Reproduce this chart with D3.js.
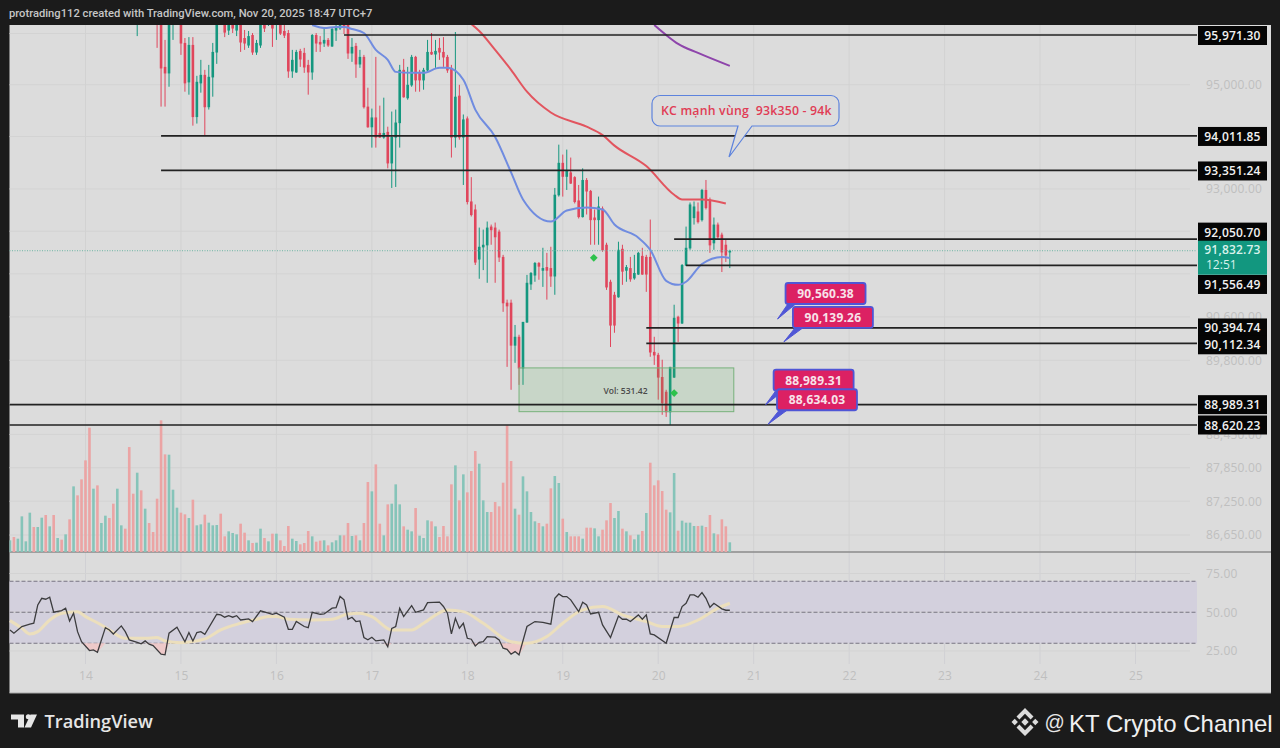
<!DOCTYPE html>
<html>
<head>
<meta charset="utf-8">
<script src="https://cdn.jsdelivr.net/npm/d3@7"></script>
<style>
  html, body { margin: 0; padding: 0; background: #1b1b1b; }
  svg { display: block; }
  text { font-family: "Open Sans", sans-serif; }
</style>
</head>
<body>
<div id="chart"></div>
<script>
// hourly candles, the first one visible in the pane is hour 32 of the session
var firstCandleHour = 32;
var opens = [
  96225,96360,96555,96460,96360,96555,96460,95348,95232,96265,
  96555,96460,95816,95058,95777,94387,95039,95193,94577,95155,
  95640,96265,96360,96070,96265,96070,96265,95912,95777,95971,
  95640,95777,96187,96225,96265,96187,96225,96050,96010,95271,
  95251,95660,95621,95387,95251,95971,95836,95816,95875,95758,
  96070,96110,96187,96168,95621,95758,95407,95543,94577,94190,
  94368,94070,93992,94090,93497,93992,94270,95290,94750,95000,
  95543,95251,95097,95290,95640,95602,95719,95640,95543,95329,
  93992,94789,93992,94349,92762,92610,91679,91907,91945,92287,
  92268,92192,91717,90863,90863,90080,90232,89660,90507,91214,
  91380,91603,91470,91527,91508,91362,92890,93497,93242,93314,
  93224,92781,92477,93170,92962,92458,92420,92629,91945,91252,
  91010,90974,91869,91470,91508,91326,91398,91736,91717,91717,
  89954,89900,89494,89224,88862,89494,90602,90488,91565,91888,
  92458,92572,92420,92980,92800,91983,92325,92135,91945,91812];
var highs = [
  96420,96555,96650,96650,96555,96650,96555,95875,96460,96650,
  96650,96555,95912,95930,95930,95174,95485,95290,95387,95816,
  96460,96555,96460,96360,96360,96360,96360,96070,96050,96010,
  95875,96360,96360,96420,96360,96420,96360,96225,96070,95680,
  95680,95700,95719,95485,95990,96010,95950,96110,95912,96110,
  96225,96305,96265,96265,95912,95816,95680,95582,94943,94539,
  95543,94596,94750,94190,94482,94520,95387,95504,95348,95582,
  95563,95290,95329,95875,96010,95875,95912,95930,95582,95387,
  96030,95000,94425,94387,93224,92705,92268,92230,92382,92325,
  92363,92230,91755,90920,90920,90450,90270,90507,91380,91434,
  91622,91622,91888,91793,91907,93018,93845,93655,93750,93598,
  93242,93075,93392,93206,92980,92610,92854,92667,91983,91290,
  91064,92002,91945,91565,91717,91755,91812,91888,91755,92420,
  90232,89936,89810,89260,89679,90825,90621,91584,92287,92743,
  92762,92743,93000,93170,92836,92458,92363,92173,92040,91850];
var lows = [
  95950,96265,96360,96265,96225,95719,94577,94577,94962,95875,
  96265,95582,94866,94808,94210,94250,94847,94030,94520,94769,
  95407,96187,95930,95971,96010,95950,95640,95680,95719,95582,
  95582,95719,96030,96148,95738,95875,95971,95912,95135,95135,
  95232,95348,95232,94808,95097,95640,95640,95738,95738,95738,
  95855,96070,95990,95504,95446,95135,95329,94539,94170,93788,
  93788,93975,93958,93392,93018,93037,93788,94750,94710,94962,
  94866,94866,94905,95251,95582,95329,95485,95348,95232,93598,
  93788,93940,93075,92705,92477,91565,91308,91470,91233,91945,
  91233,91622,90693,89679,89260,89753,89350,89350,90488,91100,
  91252,91290,91157,90920,91157,91010,92854,92854,92980,93094,
  92724,92439,92458,92515,91945,91945,91945,91812,91100,90044,
  90306,90956,91195,91252,91252,91290,91380,91380,91064,89864,
  89715,89080,88805,88767,88620,89476,90137,90469,91546,91850,
  92325,92344,92382,92610,91793,91850,92040,91434,91622,91508];
var closes = [
  96305,96460,96460,96360,96460,96265,95329,95232,96360,96555,
  96360,95816,95039,95777,94387,95058,95193,94577,95155,95640,
  96360,96460,96030,96265,96110,96225,95836,95816,95950,95640,
  95816,96265,96110,96305,96110,96305,96010,95971,95271,95485,
  95640,95504,95348,95251,95971,95816,95797,95875,95777,96090,
  96130,96225,96130,95621,95738,95407,95543,94577,94190,94368,
  93992,93992,94070,93497,93992,94270,95290,94769,95000,95543,
  95097,95097,95290,95640,95602,95660,95640,95543,95290,93992,
  94769,93992,94330,92762,92515,91622,91907,91945,92268,92230,
  92097,91717,90863,90806,90080,90232,89660,90507,91233,91416,
  91603,91546,91508,91470,91362,92890,93497,93242,93350,93113,
  92762,92477,93170,92962,92420,92420,92667,91850,91157,90450,
  90450,91850,91452,91527,91308,91416,91793,91398,91398,89954,
  89900,89494,89026,88862,89679,90583,90488,91565,91888,92705,
  92667,92382,92980,92648,91945,92325,92097,91812,91755,91832.73];

// volume for every hour, from hour 0
var volumes = [
  35,45,40,107,32,118,75,75,103,111,77,111,42,37,53,98,197,170,218,275,
  373,190,200,87,109,102,145,190,80,70,315,175,238,185,130,87,60,160,395,293,
  292,187,133,118,113,102,157,80,83,112,88,80,81,115,47,62,57,53,85,58,
  35,27,28,70,42,32,55,55,35,18,78,40,33,23,27,63,47,31,34,35,
  20,29,35,50,50,87,48,50,35,87,210,182,263,85,
  50,143,145,203,143,77,67,62,132,49,42,95,92,77,45,78,47,203,260,155,
  233,179,243,303,265,155,120,120,150,137,208,380,273,130,112,227,182,120,92,87,
  77,85,191,228,207,100,60,47,47,47,40,73,73,71,47,67,95,147,102,123,
  70,62,50,38,52,63,117,268,200,215,183,127,119,237,64,94,88,88,78,78,
  79,75,111,56,53,98,77,29];
var volumeDirs = ("grgggg rggr grgrgrgrrr rgrggrrggr rrgrgrrrrr ggg rrgrggr " +
  "gggrrgggrr grggrgrgrr rggrrrgrrg rgggrrgrgr rgrr " +
  "grgggrggrg ggrgrrrrgr grrrgggrrr rrrgrggggr grrggrgrrr " +
  "grrggrrrgg rgrggrgrrr rrggrggggr grrgrrrg").replace(/ /g, "").split("");

var blueHours = [76,79,82,84,86,89,92,95,97,101,104,108,110,114,117,122,126,129,136,140,145,149,152,158,161,165,168,170,174,179,181];
var blueValues = [96168,96110,96130,96130,96090,96010,95680,95485,95251,95232,95232,95329,95329,95097,94520,93992,93314,92800,92382,92590,92648,92610,92325,92078,91850,91270,91195,91252,91584,91717,91698];
var redHours = [116,118,122,126,130,136,145,149,152,160,167,169,174,180];
var redValues = [96187,96050,95680,95290,94866,94463,94190,94030,93826,93435,92890,92800,92800,92724];
var purpleHours = [162,165,168,173,181];
var purpleValues = [96168,95971,95797,95621,95368];

var rsiHours = [0,1,3,5,6,7,8,9,10,11,13,14,15,16,17,18,20,21,22,24,25,26,28,29,30,32,33,34,35,36,38,39,40,42,44,45,46,47,48,49,52,53,54,55,56,57,58,60,61,63,65,66,67,69,70,71,72,74,75,76,78,79,81,82,83,84,85,86,87,88,89,90,91,92,94,95,96,97,98,99,101,102,104,105,108,109,110,111,112,113,114,115,116,117,118,119,120,122,123,124,125,126,127,128,130,132,134,136,137,138,139,140,141,143,144,145,146,148,149,151,153,154,155,156,158,159,160,161,162,165,167,168,169,170,171,172,173,174,175,176,177,179,180,181];
var rsiValues = [38.6,36.5,40.8,42.3,42.9,54.7,59,58.4,59.7,50,51.1,52.6,44.4,49.4,37.5,31,25.3,25.7,24.2,40.1,38.6,36,41.2,37.5,32.2,30.6,29.6,31.5,29.4,28.5,22.9,22.5,36.5,40.3,31,36.9,31.5,36.9,37.5,35.8,48.7,48.3,46.8,47.8,46.8,47.8,45,45.7,44,50.9,49.4,48.7,49.4,46.8,39,39,44,40.8,40.1,50,48.7,48.9,52.6,53,60.2,58,45.5,46.8,44,44.4,33.7,32.2,33.9,31.5,32.2,27.8,39.6,40.8,52.6,47.2,54.3,50,51.5,56.2,56.5,53.7,49.4,36,46.1,39.7,42.9,33.2,32.6,28.3,30.6,31.1,34.3,33.9,32.2,26.8,26.1,22.9,24.6,22.5,40.8,44,43.5,42.3,59,61.8,60.1,60.1,58,50.4,56.5,54.7,48.9,50,41.8,33.7,47.6,45.5,45.5,44,48.3,45.5,48.3,36,35.4,30,46.6,46.6,53.7,55.8,61.2,61.2,59.7,62.7,59,53.2,55.8,52.2,51.3,51.3];
var rsiMaHours = [0,3,5,7,10,13,17,19,23,25,29,34,37,39,43,49,53,58,62,65,67,70,76,81,85,88,91,96,101,104,110,114,119,126,130,135,139,144,149,154,160,164,168,173,178,181];
var rsiMaValues = [44.6,39.7,36,37.5,45,49.4,50.4,47.2,41.8,38.6,33.2,33.2,33.7,31.5,30.4,32.8,38.6,42.9,45.5,47.2,47.2,45.5,45,45.5,48.9,49.4,47.2,38.6,38.6,42.9,51.5,50.4,42.9,31,30,34.3,42.9,51.5,53.7,48.3,44,40.8,40.8,45,52.6,55.8];

var priceGridTicks = [96000,95000,94000,93000,92200,91400,90600,89800,89000,88450,87850,87250,86650];
var priceLabelTicks = [95000,93000,90600,89800,88450,87850,87250,86650];
var rsiTicks = [75,50,25];
var rsiBands = [70,50,30];
var levelPrices = [95971.30,94011.85,93351.24,92050.70,91556.49,90394.74,90112.34,88989.31,88620.23];
var levelStartHours = [84,38,38,167,170,160,160,0,0];
var lastPrice = 91832.73;
var countdown = "12:51";
var tagPrices = [90560.38,90139.26,88989.31,88634.03];
var tagHours = [193,194.6,190,190.6];
var rangeHours = [128,182];
var rangePrices = [89660,88862];
var rangeLabel = "Vol: 531.42";
var markerHours = [146.8,167];
var markerPrices = [91700,89200];

// layout
var width = 1280, height = 748;
var paneLeft = 9.5, paneRight = 1271, paneTop = 25, paneBottom = 693;
var plotRight = 1197, volumeBase = 552, timeAxisTop = 664;
var levelLabelShift = [0.5,0.5,0.5,-7,19,0,1.5,0,0];
var tagBoxOffsets = [[8,-36],[9,-35],[8,-35],[9,-35]];
var tagBoxWidth = 80, tagBoxHeight = 21;
var red = "#e0465c", green = "#15977f";

var hourAt = function(h) { return new Date(Date.UTC(2025, 10, 13, 5) + h * 3600000); };

var x = d3.scaleUtc()
  .domain([new Date(Date.UTC(2025, 10, 14)), new Date(Date.UTC(2025, 10, 25))])
  .range([85.5, 1135.5]);
var y = d3.scaleLog()
  .domain([88620.23, 95971.30])
  .range([425, 35]);
var yVolume = d3.scaleLinear().domain([0, 400]).range([volumeBase, volumeBase - 133.3]);
var yRsi = d3.scaleLinear().domain([25, 75]).range([651, 573.5]);

var svg = d3.select("#chart").append("svg")
  .attr("width", width)
  .attr("height", height);

svg.append("text")
  .attr("x", 9)
  .attr("y", 17)
  .attr("fill", "#c6c6c6")
  .style("font-family", "Roboto, sans-serif")
  .attr("font-size", 11.2)
  .attr("font-weight", 500)
  .text("protrading112 created with TradingView.com, Nov 20, 2025 18:47 UTC+7");

svg.append("rect")
  .attr("x", paneLeft)
  .attr("y", paneTop)
  .attr("width", paneRight - paneLeft)
  .attr("height", paneBottom - paneTop)
  .attr("fill", "#dcdcdc");

svg.append("clipPath").attr("id", "plot").append("rect")
  .attr("x", paneLeft)
  .attr("y", paneTop)
  .attr("width", plotRight - paneLeft)
  .attr("height", volumeBase - paneTop);

// grid
svg.append("g").selectAll("line")
  .data(priceGridTicks)
  .enter().append("line")
  .attr("x1", paneLeft)
  .attr("x2", 1190)
  .attr("y1", function(d) { return y(d); })
  .attr("y2", function(d) { return y(d); })
  .attr("stroke", "#d3d3d3");
var days = x.ticks(d3.utcDay.every(1));
var dayGrid = svg.append("g");
dayGrid.selectAll(".upper")
  .data(days)
  .enter().append("line")
  .attr("x1", function(d) { return x(d); })
  .attr("x2", function(d) { return x(d); })
  .attr("y1", paneTop)
  .attr("y2", volumeBase)
  .attr("stroke", "#d2d2d2");

// RSI band goes under the lower part of the day grid
var band = svg.append("g");
band.append("rect")
  .attr("x", paneLeft)
  .attr("y", yRsi(rsiBands[0]))
  .attr("width", plotRight - paneLeft)
  .attr("height", yRsi(rsiBands[2]) - yRsi(rsiBands[0]))
  .attr("fill", "#d3d0dd");
band.selectAll(".faint")
  .data(rsiTicks)
  .enter().append("line")
  .attr("x1", paneLeft)
  .attr("x2", 1190)
  .attr("y1", function(d) { return yRsi(d); })
  .attr("y2", function(d) { return yRsi(d); })
  .attr("stroke", "#d3d3d3");
band.selectAll(".limit")
  .data(rsiBands)
  .enter().append("line")
  .attr("x1", paneLeft)
  .attr("x2", plotRight)
  .attr("y1", function(d) { return yRsi(d); })
  .attr("y2", function(d) { return yRsi(d); })
  .attr("stroke", "#787582")
  .attr("stroke-dasharray", "4 2");
dayGrid.selectAll(".lower")
  .data(days)
  .enter().append("line")
  .attr("x1", function(d) { return x(d); })
  .attr("x2", function(d) { return x(d); })
  .attr("y1", volumeBase)
  .attr("y2", timeAxisTop)
  .attr("stroke", "#d0d0d4");

svg.append("line")
  .attr("x1", paneLeft)
  .attr("x2", paneRight)
  .attr("y1", volumeBase)
  .attr("y2", volumeBase)
  .attr("stroke", "#8b8b8b")
  .attr("stroke-width", 1.5);

// axes
var priceAxis = d3.axisRight(y)
  .tickValues(priceLabelTicks)
  .tickSize(0)
  .tickPadding(0)
  .tickFormat(d3.format(",.2f"));
svg.append("g").attr("class", "axis")
  .attr("transform", "translate(1206,0)")
  .call(priceAxis);
var rsiAxis = d3.axisRight(yRsi)
  .tickValues(rsiTicks)
  .tickSize(0)
  .tickPadding(0)
  .tickFormat(d3.format(".2f"));
svg.append("g").attr("class", "axis")
  .attr("transform", "translate(1206,0)")
  .call(rsiAxis);
var timeAxis = d3.axisBottom(x)
  .ticks(d3.utcDay.every(1))
  .tickSize(0)
  .tickPadding(0)
  .tickFormat(d3.utcFormat("%-d"));
svg.append("g").attr("class", "axis")
  .attr("transform", "translate(0,671)")
  .call(timeAxis);
svg.selectAll(".axis .domain").remove();
svg.selectAll(".axis text")
  .attr("fill", "#bfbfbf")
  .attr("font-size", 12)
  .attr("letter-spacing", 0.2);

// volume
svg.append("g")
  .attr("clip-path", "url(#plot)")
  .selectAll("rect")
  .data(volumes)
  .enter().append("rect")
  .attr("x", function(d, i) { return x(hourAt(i)) - 1.3; })
  .attr("y", function(d) { return yVolume(d); })
  .attr("width", 2.6)
  .attr("height", function(d) { return volumeBase - yVolume(d); })
  .attr("fill", function(d, i) { return volumeDirs[i] === "g" ? "#86c4b9" : "#eba4a4"; });

// price pane content
var plot = svg.append("g").attr("clip-path", "url(#plot)");

var candles = plot.append("g").selectAll("g")
  .data(opens)
  .enter().append("g")
  .attr("transform", function(d, i) { return "translate(" + x(hourAt(firstCandleHour + i)) + ",0)"; })
  .attr("fill", function(d, i) { return closes[i] >= opens[i] ? green : red; })
  .attr("stroke", function(d, i) { return closes[i] >= opens[i] ? green : red; });
candles.append("line")
  .attr("y1", function(d, i) { return y(highs[i]); })
  .attr("y2", function(d, i) { return y(lows[i]); });
candles.append("rect")
  .attr("x", -1.3)
  .attr("width", 2.6)
  .attr("y", function(d, i) { return y(Math.max(opens[i], closes[i])); })
  .attr("height", function(d, i) { return Math.abs(y(opens[i]) - y(closes[i])) + 0.6; })
  .attr("stroke", "none");

svg.append("line")
  .attr("x1", paneLeft)
  .attr("x2", plotRight)
  .attr("y1", y(lastPrice))
  .attr("y2", y(lastPrice))
  .attr("stroke", "#6fb6a6")
  .attr("stroke-dasharray", "1 1.5");

// moving averages
var maLine = d3.line()
  .x(function(d) { return x(hourAt(d[0])); })
  .y(function(d) { return y(d[1]); })
  .curve(d3.curveMonotoneX);
plot.append("path").datum(d3.zip(blueHours, blueValues))
  .attr("d", maLine).attr("fill", "none").attr("stroke", "#708ce0").attr("stroke-width", 2);
plot.append("path").datum(d3.zip(redHours, redValues))
  .attr("d", maLine).attr("fill", "none").attr("stroke", "#e2555f").attr("stroke-width", 2);
plot.append("path").datum(d3.zip(purpleHours, purpleValues))
  .attr("d", maLine).attr("fill", "none").attr("stroke", "#8e45ab").attr("stroke-width", 2);

// volume range box
var rangeBox = svg.append("g");
rangeBox.append("rect")
  .attr("x", x(hourAt(rangeHours[0])))
  .attr("y", y(rangePrices[0]))
  .attr("width", x(hourAt(rangeHours[1])) - x(hourAt(rangeHours[0])))
  .attr("height", y(rangePrices[1]) - y(rangePrices[0]))
  .attr("fill", "#4caf50")
  .attr("fill-opacity", 0.14)
  .attr("stroke", "#78b27c");
rangeBox.append("text")
  .attr("x", 625.5)
  .attr("y", 393.5)
  .attr("text-anchor", "middle")
  .attr("fill", "#4a4a4a")
  .attr("font-size", 8.5)
  .attr("font-weight", 600)
  .text(rangeLabel);

svg.append("g").selectAll("path")
  .data(markerHours)
  .enter().append("path")
  .attr("transform", function(d, i) { return "translate(" + x(hourAt(d)) + "," + y(markerPrices[i]) + ") rotate(45)"; })
  .attr("d", d3.symbol().type(d3.symbolSquare).size(30))
  .attr("fill", "#2ec24c");

// horizontal levels and their axis labels
var levels = svg.append("g");
levels.selectAll("line")
  .data(levelPrices)
  .enter().append("line")
  .attr("x1", function(d, i) { return levelStartHours[i] === 0 ? paneLeft : x(hourAt(levelStartHours[i])); })
  .attr("x2", plotRight)
  .attr("y1", function(d) { return y(d); })
  .attr("y2", function(d) { return y(d); })
  .attr("stroke", "#222222")
  .attr("stroke-width", 1.7);
var levelTags = levels.selectAll("g")
  .data(levelPrices)
  .enter().append("g")
  .attr("transform", function(d, i) { return "translate(1198," + (y(d) + levelLabelShift[i]) + ")"; });
levelTags.append("rect")
  .attr("y", -9.5)
  .attr("width", 69)
  .attr("height", 19)
  .attr("fill", "#050505");
levelTags.append("text")
  .attr("x", 34.5)
  .attr("y", 4.5)
  .attr("text-anchor", "middle")
  .attr("fill", "#f2f2f2")
  .attr("font-size", 12)
  .attr("font-weight", 600)
  .attr("letter-spacing", 0.2)
  .text(d3.format(",.2f"));

// last price tag
var lastTag = svg.append("g").attr("transform", "translate(1198," + (y(lastPrice) - 10) + ")");
lastTag.append("rect")
  .attr("width", 69)
  .attr("height", 34)
  .attr("fill", "#12977f");
lastTag.append("text")
  .attr("x", 34.5)
  .attr("y", 13.5)
  .attr("text-anchor", "middle")
  .attr("fill", "#d9f2ec")
  .attr("font-size", 12)
  .attr("font-weight", 600)
  .attr("letter-spacing", 0.2)
  .text(d3.format(",.2f")(lastPrice));
lastTag.append("text")
  .attr("x", 8)
  .attr("y", 28.5)
  .attr("fill", "#d9f2ec")
  .attr("font-size", 12)
  .text(countdown);

// pink price tags with the pointer down to the price
var tags = svg.append("g").selectAll("g")
  .data(tagPrices)
  .enter().append("g")
  .attr("transform", function(d, i) { return "translate(" + x(hourAt(tagHours[i])) + "," + y(d) + ")"; });
tags.append("path")
  .attr("d", function(d, i) {
    var o = tagBoxOffsets[i];
    return "M0,0L" + (o[0] + 3) + "," + (o[1] + tagBoxHeight - 1) + "L" + (o[0] + 10) + "," + (o[1] + tagBoxHeight) + "Z";
  })
  .attr("fill", "#4f56d6")
  .attr("stroke", "#4f56d6");
tags.append("rect")
  .attr("x", function(d, i) { return tagBoxOffsets[i][0]; })
  .attr("y", function(d, i) { return tagBoxOffsets[i][1]; })
  .attr("width", tagBoxWidth)
  .attr("height", tagBoxHeight)
  .attr("rx", 2.5)
  .attr("fill", "#dc2163")
  .attr("stroke", "#4f56d6")
  .attr("stroke-width", 1.8);
tags.append("text")
  .attr("x", function(d, i) { return tagBoxOffsets[i][0] + tagBoxWidth / 2; })
  .attr("y", function(d, i) { return tagBoxOffsets[i][1] + 15; })
  .attr("text-anchor", "middle")
  .attr("fill", "#f7e3ea")
  .attr("font-size", 12)
  .attr("font-weight", 700)
  .attr("letter-spacing", 0.2)
  .text(d3.format(",.2f"));

// callout
var callout = svg.append("g");
callout.append("path")
  .attr("d", "M660,95.5H831a8,8 0 0 1 8,8V118a8,8 0 0 1 -8,8H752L729,157L738,126H660a8,8 0 0 1 -8,-8V103.5a8,8 0 0 1 8,-8Z")
  .attr("fill", "#dcdcdc")
  .attr("stroke", "#5d83dd")
  .attr("stroke-width", 1.2);
callout.append("text")
  .attr("x", 661)
  .attr("y", 114.5)
  .attr("fill", "#e03c55")
  .attr("font-size", 12.3)
  .attr("font-weight", 600)
  .attr("letter-spacing", 0.2)
  .style("white-space", "pre")
  .text("KC mạnh vùng  93k350 - 94k");

// RSI lines, with the pink fill where it drops under the lower band
var rsiPairs = d3.zip(rsiHours, rsiValues);
svg.append("path").datum(rsiPairs)
  .attr("d", d3.area()
    .x(function(d) { return x(hourAt(d[0])); })
    .y0(yRsi(rsiBands[2]))
    .y1(function(d) { return yRsi(Math.min(d[1], rsiBands[2])); }))
  .attr("fill", "#eec9c9");
var rsiLine = d3.line()
  .x(function(d) { return x(hourAt(d[0])); })
  .y(function(d) { return yRsi(d[1]); });
svg.append("path").datum(d3.zip(rsiMaHours, rsiMaValues))
  .attr("d", rsiLine.curve(d3.curveMonotoneX))
  .attr("fill", "none")
  .attr("stroke", "#ecdfbc")
  .attr("stroke-width", 3);
svg.append("path").datum(rsiPairs)
  .attr("d", rsiLine.curve(d3.curveLinear))
  .attr("fill", "none")
  .attr("stroke", "#3c3c3e")
  .attr("stroke-width", 1.3);

svg.append("line")
  .attr("x1", paneLeft)
  .attr("x2", paneRight)
  .attr("y1", paneBottom)
  .attr("y2", paneBottom)
  .attr("stroke", "#a8a8a8");

// footer
var logo = svg.append("g").attr("fill", "#e6e6e6");
logo.append("path").attr("d", "M11,714.5H24V727.5H18V719.5H11Z");
logo.append("circle").attr("cx", 28.3).attr("cy", 716.8).attr("r", 2.5);
logo.append("path").attr("d", "M30.5,714.5H37L31,727.5H24.5Z");
svg.append("text")
  .attr("x", 44.5)
  .attr("y", 728)
  .attr("fill", "#e6e6e6")
  .attr("font-size", 18.2)
  .attr("font-weight", 600)
  .text("TradingView");

var binance = svg.append("g")
  .attr("fill", "#dcdcdc")
  .attr("transform", "translate(1025,722)");
binance.append("path").attr("d", "M0,-3.7L3.7,0L0,3.7L-3.7,0Z");
binance.append("path").attr("d", "M-13.5,0L-10.3,-3.2L-7.1,0L-10.3,3.2Z");
binance.append("path").attr("d", "M13.5,0L10.3,-3.2L7.1,0L10.3,3.2Z");
binance.append("path").attr("d", "M0,-14L8.5,-5.5L5.6,-2.6L0,-8.2L-5.6,-2.6L-8.5,-5.5Z");
binance.append("path").attr("d", "M0,14L8.5,5.5L5.6,2.6L0,8.2L-5.6,2.6L-8.5,5.5Z");

svg.append("text")
  .attr("x", 1044.5)
  .attr("y", 729)
  .attr("fill", "#e6e6e6")
  .style("font-family", "'Liberation Sans', sans-serif")
  .attr("font-size", 20)
  .text("@");
svg.append("text")
  .attr("x", 1069)
  .attr("y", 732)
  .attr("fill", "#f0f0f0")
  .style("font-family", "'Liberation Sans', sans-serif")
  .attr("font-size", 24)
  .text("KT Crypto Channel");
</script>
</body>
</html>
